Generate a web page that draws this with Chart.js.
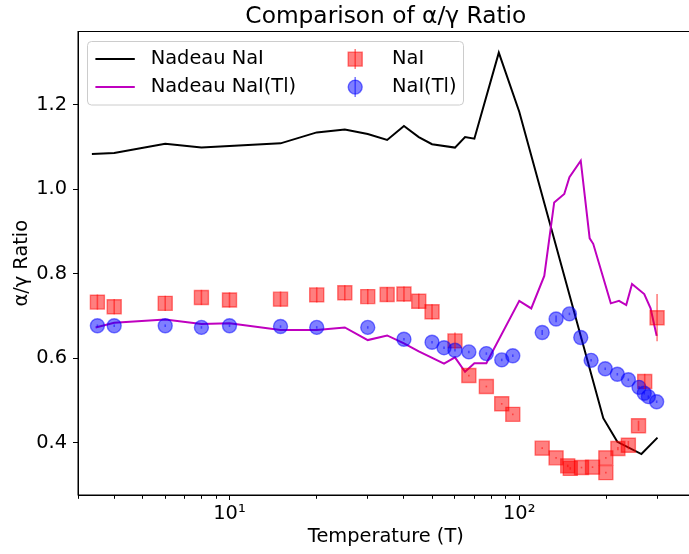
<!DOCTYPE html>
<html>
<head>
<meta charset="utf-8">
<script src="https://cdn.jsdelivr.net/npm/chart.js@4.4.1/dist/chart.umd.min.js"></script>
<style>
  html, body { margin: 0; padding: 0; background: #fff; overflow: hidden; }
  #wrap { width: 705px; height: 554px; }
</style>
</head>
<body>
<div id="wrap"><canvas id="chart" width="705" height="554"></canvas></div>
<script>
// Nadeau reference curves
const nadeauNaiT = [3.35, 4, 6, 8, 10, 15, 20, 25, 30, 35, 40, 45, 50, 60, 65, 70, 85, 100, 195, 218, 264, 300];
const nadeauNaiRatio = [1.084, 1.086, 1.108, 1.099, 1.103, 1.109, 1.135, 1.142, 1.131, 1.117, 1.150, 1.124, 1.107, 1.099, 1.124, 1.120, 1.324, 1.184, 0.458, 0.402, 0.373, 0.412];

const nadeauTlT = [3.45, 4, 6, 8, 10, 15, 20, 25, 30, 35, 40, 45, 55, 60, 65, 70, 77, 100, 110, 122, 132, 143, 149, 163, 175, 180, 207, 221, 234, 245, 270, 284, 298];
const nadeauTlRatio = [0.673, 0.684, 0.692, 0.681, 0.683, 0.667, 0.667, 0.673, 0.643, 0.654, 0.635, 0.616, 0.587, 0.602, 0.568, 0.588, 0.588, 0.736, 0.718, 0.795, 0.969, 0.989, 1.029, 1.068, 0.884, 0.871, 0.730, 0.736, 0.726, 0.776, 0.752, 0.718, 0.653];

// measured NaI
const naiT = [3.5, 4, 6, 8, 10, 15, 20, 25, 30, 35, 40, 45, 50, 60, 67, 77, 87, 95, 120, 134, 147, 150, 164, 179, 199, 199, 219, 238, 258, 271, 299];
const naiRatio = [0.733, 0.722, 0.730, 0.744, 0.738, 0.740, 0.750, 0.755, 0.746, 0.751, 0.752, 0.735, 0.710, 0.641, 0.559, 0.533, 0.492, 0.467, 0.387, 0.364, 0.345, 0.339, 0.341, 0.342, 0.364, 0.329, 0.386, 0.394, 0.440, 0.545, 0.696];
const naiErr = [0.018, 0.018, 0.018, 0.018, 0.018, 0.018, 0.018, 0.018, 0.018, 0.018, 0.018, 0.018, 0.018, 0.02, 0.002, 0.002, 0.002, 0.002, 0.002, 0.002, 0.003, 0.003, 0.002, 0.002, 0.002, 0.002, 0.004, 0.01, 0.012, 0.018, 0.056];

// measured NaI(Tl)
const tlT = [3.5, 4, 6, 8, 10, 15, 20, 30, 40, 50, 55, 60, 67, 77, 87, 95, 120, 134, 149, 163, 177, 198, 218, 238, 259, 270, 279, 298];
const tlRatio = [0.677, 0.677, 0.677, 0.673, 0.677, 0.675, 0.673, 0.673, 0.645, 0.638, 0.625, 0.619, 0.615, 0.611, 0.596, 0.606, 0.661, 0.693, 0.705, 0.649, 0.595, 0.575, 0.562, 0.549, 0.531, 0.517, 0.509, 0.497];
const tlErr = [0.003, 0.003, 0.003, 0.003, 0.003, 0.003, 0.003, 0.003, 0.003, 0.003, 0.003, 0.003, 0.003, 0.003, 0.003, 0.003, 0.006, 0.008, 0.003, 0.003, 0.003, 0.003, 0.003, 0.003, 0.003, 0.003, 0.003, 0.003];

const xTicks = [3, 4, 5, 6, 7, 8, 9, 10, 20, 30, 40, 50, 60, 70, 80, 90, 100, 200, 300];
const yTicks = [0.4, 0.6, 0.8, 1.0, 1.2];

const FONT = "'DejaVu Sans', sans-serif";

function points(xs, ys) {
  return xs.map((x, i) => ({ x: x, y: ys[i] }));
}

const errorBars = {
  id: "errorBars",
  afterDatasetsDraw(chart) {
    const ctx = chart.ctx;
    const yScale = chart.scales.y;
    chart.data.datasets.forEach((ds, i) => {
      if (!ds.errors) return;
      const meta = chart.getDatasetMeta(i);
      ctx.save();
      ctx.strokeStyle = ds.errorColor;
      ctx.lineWidth = 1.6;
      meta.data.forEach((pt, j) => {
        const v = ds.data[j].y;
        const e = ds.errors[j];
        ctx.beginPath();
        ctx.moveTo(pt.x, yScale.getPixelForValue(v - e));
        ctx.lineTo(pt.x, yScale.getPixelForValue(v + e));
        ctx.stroke();
      });
      ctx.restore();
    });
  }
};

const frame = {
  id: "frame",
  afterDraw(chart) {
    const { ctx, chartArea } = chart;
    ctx.save();
    ctx.strokeStyle = "#000";
    ctx.lineWidth = 1;
    ctx.strokeRect(chartArea.left, chartArea.top, chartArea.right - chartArea.left, chartArea.bottom - chartArea.top);
    ctx.restore();
  }
};

function drawMarker(ctx, ds, x, y) {
  ctx.fillStyle = ds.backgroundColor;
  ctx.strokeStyle = ds.borderColor;
  ctx.lineWidth = ds.borderWidth;
  ctx.beginPath();
  if (ds.pointStyle === "rect") {
    const s = ds.pointRadius * Math.SQRT1_2;
    ctx.rect(x - s, y - s, 2 * s, 2 * s);
  } else {
    ctx.arc(x, y, ds.pointRadius, 0, Math.PI * 2);
  }
  ctx.fill();
  ctx.stroke();
}

const legendBox = {
  id: "legendBox",
  afterDraw(chart) {
    const { ctx, chartArea } = chart;
    const left = chartArea.left + 9.5;
    const top = chartArea.top + 10;
    const w = 376, h = 63.5, r = 4;
    ctx.save();
    ctx.beginPath();
    ctx.moveTo(left + r, top);
    ctx.arcTo(left + w, top, left + w, top + h, r);
    ctx.arcTo(left + w, top + h, left, top + h, r);
    ctx.arcTo(left, top + h, left, top, r);
    ctx.arcTo(left, top, left + w, top, r);
    ctx.closePath();
    ctx.fillStyle = "rgba(255,255,255,0.8)";
    ctx.fill();
    ctx.strokeStyle = "#cccccc";
    ctx.lineWidth = 1;
    ctx.stroke();

    chart.data.datasets.forEach(ds => {
      const col = ds.legendSlot[0];
      const row = ds.legendSlot[1];
      const cy = top + 17.6 + row * 28;
      const hx = left + (col ? 267.7 : 27.6);
      const tx = left + (col ? 304.5 : 63.2);
      if (ds.showLine) {
        ctx.strokeStyle = ds.borderColor;
        ctx.lineWidth = ds.borderWidth;
        ctx.beginPath();
        ctx.moveTo(hx - 19.7, cy);
        ctx.lineTo(hx + 19.7, cy);
        ctx.stroke();
      } else {
        ctx.strokeStyle = ds.errorColor;
        ctx.lineWidth = 1.6;
        ctx.beginPath();
        ctx.moveTo(hx, cy - 10);
        ctx.lineTo(hx, cy + 10);
        ctx.stroke();
        drawMarker(ctx, ds, hx, cy);
      }
      ctx.fillStyle = "#000";
      ctx.font = "19.4px " + FONT;
      ctx.textBaseline = "middle";
      ctx.textAlign = "left";
      ctx.fillText(ds.label, tx, cy);
    });
    ctx.restore();
  }
};

Chart.defaults.color = "#000";
Chart.defaults.font.family = FONT;

new Chart(document.getElementById("chart"), {
  type: "scatter",
  data: {
    datasets: [
      {
        label: "Nadeau NaI",
        data: points(nadeauNaiT, nadeauNaiRatio),
        showLine: true,
        borderColor: "#000000",
        borderWidth: 2,
        pointRadius: 0,
        order: 4,
        legendSlot: [0, 0]
      },
      {
        label: "Nadeau NaI(Tl)",
        data: points(nadeauTlT, nadeauTlRatio),
        showLine: true,
        borderColor: "#bf00bf",
        borderWidth: 2,
        pointRadius: 0,
        order: 3,
        legendSlot: [0, 1]
      },
      {
        label: "NaI",
        data: points(naiT, naiRatio),
        errors: naiErr,
        errorColor: "rgba(255,0,0,0.5)",
        pointStyle: "rect",
        pointRadius: 9.9,
        backgroundColor: "rgba(255,0,0,0.5)",
        borderColor: "rgba(255,0,0,0.5)",
        borderWidth: 1.4,
        order: 2,
        legendSlot: [1, 0]
      },
      {
        label: "NaI(Tl)",
        data: points(tlT, tlRatio),
        errors: tlErr,
        errorColor: "rgba(0,0,255,0.5)",
        pointStyle: "circle",
        pointRadius: 7,
        backgroundColor: "rgba(0,0,255,0.5)",
        borderColor: "rgba(0,0,255,0.5)",
        borderWidth: 1.4,
        order: 1,
        legendSlot: [1, 1]
      }
    ]
  },
  options: {
    responsive: false,
    animation: false,
    devicePixelRatio: 1,
    layout: {
      padding: { left: 0, right: 4, top: 0, bottom: 0 }
    },
    plugins: {
      legend: { display: false },
      tooltip: { enabled: false },
      title: {
        display: true,
        text: "Comparison of α/γ Ratio",
        fullSize: false,
        color: "#000",
        font: { family: FONT, size: 23.3, weight: "normal", lineHeight: 1 },
        padding: { top: 5, bottom: 3.2 }
      }
    },
    scales: {
      x: {
        type: "logarithmic",
        min: 3,
        max: 400,
        afterBuildTicks: scale => {
          scale.ticks = xTicks.map(v => ({ value: v }));
        },
        afterFit: scale => {
          scale.height = 59;
        },
        ticks: {
          autoSkip: false,
          maxRotation: 0,
          padding: 2,
          font: { family: FONT, size: 19.4 },
          callback: v => (v === 10 ? "10¹" : v === 100 ? "10²" : "")
        },
        grid: {
          drawOnChartArea: false,
          tickLength: 5,
          tickColor: "#000",
          tickWidth: 1,
          tickBorderDash: ctx => (ctx.tick && (ctx.tick.value === 10 || ctx.tick.value === 100) ? [] : [2.8, 20])
        },
        border: { color: "#000", width: 1 },
        title: {
          display: true,
          text: "Temperature (T)",
          font: { family: FONT, size: 19.4 },
          padding: { top: 0, bottom: 5 }
        }
      },
      y: {
        min: 0.276,
        max: 1.374,
        afterBuildTicks: scale => {
          scale.ticks = yTicks.map(v => ({ value: v }));
        },
        afterFit: scale => {
          scale.width = 78;
        },
        ticks: {
          padding: 6,
          font: { family: FONT, size: 19.4 },
          callback: v => v.toFixed(1)
        },
        grid: {
          drawOnChartArea: false,
          tickLength: 5,
          tickColor: "#000",
          tickWidth: 1
        },
        border: { color: "#000", width: 1 },
        title: {
          display: true,
          text: "α/γ Ratio",
          font: { family: FONT, size: 19.4 },
          padding: { top: 10, bottom: 0 }
        }
      }
    }
  },
  plugins: [errorBars, frame, legendBox]
});
</script>
</body>
</html>
